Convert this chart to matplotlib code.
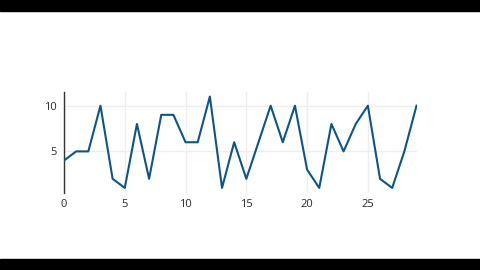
import matplotlib
matplotlib.use("Agg")
import matplotlib.pyplot as plt
from matplotlib.patches import Rectangle

# ── Data ────────────────────────────────────────
x_vals = list(range(30))
y_vals = [4, 5, 5, 10, 2, 1, 8, 2, 9, 9, 6, 6, 11, 1, 6, 2, 6, 10, 6, 10,
          3, 1, 8, 5, 8, 10, 2, 1, 5, 10]
x_ticks = [0, 5, 10, 15, 20, 25]
y_ticks = [5, 10]
# ────────────────────────────────────────────────

plt.rcParams["font.family"] = ["Open Sans", "DejaVu Sans"]

fig = plt.figure(figsize=(4.8, 2.7), dpi=100)
fig.patch.set_facecolor("white")

# letterbox bars
fig.patches.append(Rectangle((0, 0), 1, 11 / 270, transform=fig.transFigure,
                             color="black", zorder=-1))
fig.patches.append(Rectangle((0, 1 - 10.7 / 270), 1, 10.7 / 270,
                             transform=fig.transFigure, color="black", zorder=-1))

ax = fig.add_axes([64 / 480, 77.5 / 270, (416.5 - 64) / 480, (193 - 92.5) / 270])
ax.plot(x_vals, y_vals, color="#0f5483", linewidth=1.5, zorder=3)

ax.set_xlim(0, 29)
ax.set_ylim(0.5, 11.5)
ax.set_xticks(x_ticks)
ax.set_yticks(y_ticks)
ax.grid(True, color="#eeeeee", linewidth=1)
ax.set_axisbelow(True)

for side in ["top", "right", "bottom"]:
    ax.spines[side].set_visible(False)
ax.spines["left"].set_color("#333333")
ax.spines["left"].set_linewidth(1)

ax.tick_params(length=0, labelsize=8, colors="#2a2a2a", pad=5)

fig.savefig("out.png", dpi=100)
